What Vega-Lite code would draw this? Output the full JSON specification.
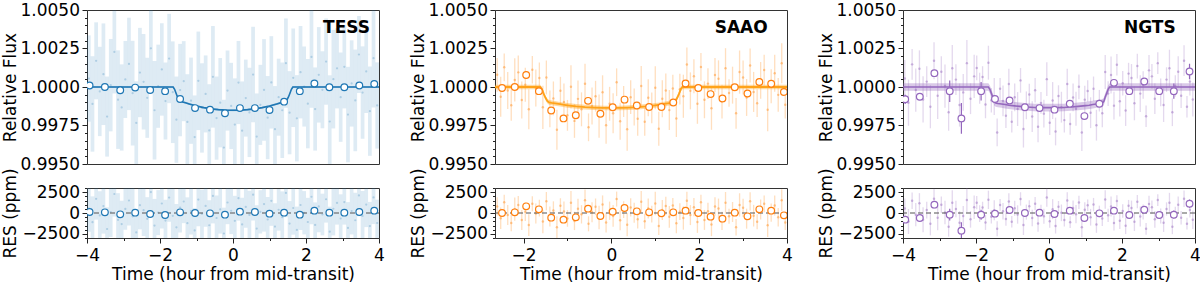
{
"$schema": "https://vega.github.io/schema/vega-lite/v6.json",
"padding": {"left": 0, "top": 0, "right": 0, "bottom": 0},
"config": {
  "font": "DejaVu Sans",
  "view": {"stroke": "#333333", "strokeWidth": 1},
  "axis": {"grid": false, "domain": false, "tickColor": "#222222", "tickSize": 5, "tickWidth": 1, "labelFontSize": 17, "labelColor": "#000000", "titleFontSize": 17, "titleFontWeight": "normal", "titleColor": "#000000", "labelFont": "DejaVu Sans", "titleFont": "DejaVu Sans", "labelFlush": false, "labelOverlap": false},
  "axisX": {"labelPadding": 4, "titlePadding": 3},
  "axisY": {"labelPadding": 2.5, "titleX": -68}
},
"datasets": {
"tess": [
{"t":-3.95,"f":1.00055,"e":0.0028,"r":550,"s":2800},
{"t":-3.85,"f":0.9989,"e":0.0031,"r":-1100,"s":3100},
{"t":-3.75,"f":1.0017,"e":0.0025,"r":1700,"s":2500},
{"t":-3.65,"f":0.99971,"e":0.0029,"r":-290,"s":2900},
{"t":-3.55,"f":1.00083,"e":0.0033,"r":830,"s":3300},
{"t":-3.45,"f":0.99808,"e":0.0026,"r":-1920,"s":2600},
{"t":-3.35,"f":1.00012,"e":0.003,"r":120,"s":3000},
{"t":-3.25,"f":1.00228,"e":0.0027,"r":2280,"s":2700},
{"t":-3.15,"f":0.99918,"e":0.0032,"r":-820,"s":3200},
{"t":-3.05,"f":0.99867,"e":0.0028,"r":-1330,"s":2800},
{"t":-2.95,"f":1.00049,"e":0.0025,"r":490,"s":2500},
{"t":-2.85,"f":1.0015,"e":0.003,"r":1500,"s":3000},
{"t":-2.75,"f":0.9996,"e":0.0034,"r":-400,"s":3400},
{"t":-2.65,"f":0.99767,"e":0.0027,"r":-2330,"s":2700},
{"t":-2.55,"f":1.00094,"e":0.0029,"r":940,"s":2900},
{"t":-2.45,"f":1.00034,"e":0.0031,"r":340,"s":3100},
{"t":-2.35,"f":0.9993,"e":0.0026,"r":-700,"s":2600},
{"t":-2.25,"f":1.00251,"e":0.0028,"r":2510,"s":2800},
{"t":-2.15,"f":0.99849,"e":0.0032,"r":-1510,"s":3200},
{"t":-2.05,"f":1.00005,"e":0.0027,"r":50,"s":2700},
{"t":-1.95,"f":1.00114,"e":0.003,"r":1140,"s":3000},
{"t":-1.85,"f":0.99909,"e":0.0025,"r":-910,"s":2500},
{"t":-1.75,"f":1.00185,"e":0.0029,"r":1850,"s":2900},
{"t":-1.65,"f":0.99966,"e":0.0033,"r":-340,"s":3300},
{"t":-1.55,"f":0.99788,"e":0.0028,"r":-1720,"s":2800},
{"t":-1.45,"f":0.9998,"e":0.003,"r":660,"s":3000},
{"t":-1.35,"f":1.00038,"e":0.0026,"r":1380,"s":2600},
{"t":-1.25,"f":0.99773,"e":0.0031,"r":-1220,"s":3100},
{"t":-1.15,"f":0.99911,"e":0.0028,"r":220,"s":2800},
{"t":-1.05,"f":0.99675,"e":0.0027,"r":-2090,"s":2700},
{"t":-0.95,"f":1.0004,"e":0.0032,"r":1610,"s":3200},
{"t":-0.85,"f":0.99864,"e":0.0029,"r":-100,"s":2900},
{"t":-0.75,"f":0.99955,"e":0.0025,"r":850,"s":2500},
{"t":-0.65,"f":0.99718,"e":0.003,"r":-1470,"s":3000},
{"t":-0.55,"f":1.00066,"e":0.0033,"r":2050,"s":3300},
{"t":-0.45,"f":0.99798,"e":0.0027,"r":-600,"s":2700},
{"t":-0.35,"f":0.99898,"e":0.0029,"r":430,"s":2900},
{"t":-0.25,"f":0.99607,"e":0.0031,"r":-2460,"s":3100},
{"t":-0.15,"f":0.99977,"e":0.0026,"r":1260,"s":2600},
{"t":-0.05,"f":0.99877,"e":0.0028,"r":270,"s":2800},
{"t":0.05,"f":0.99756,"e":0.003,"r":-940,"s":3000},
{"t":0.15,"f":1.00029,"e":0.0027,"r":1780,"s":2700},
{"t":0.25,"f":0.99716,"e":0.0032,"r":-1370,"s":3200},
{"t":0.35,"f":0.99928,"e":0.0025,"r":730,"s":2500},
{"t":0.45,"f":0.99835,"e":0.0029,"r":-230,"s":2900},
{"t":0.55,"f":1.00081,"e":0.0031,"r":2200,"s":3100},
{"t":0.65,"f":0.99678,"e":0.0028,"r":-1870,"s":2800},
{"t":0.75,"f":0.99884,"e":0.0026,"r":140,"s":2600},
{"t":0.85,"f":0.99981,"e":0.0033,"r":1070,"s":3300},
{"t":0.95,"f":0.99801,"e":0.0027,"r":-780,"s":2700},
{"t":1.05,"f":1.0003,"e":0.003,"r":1460,"s":3000},
{"t":1.15,"f":0.99726,"e":0.0028,"r":-1630,"s":2800},
{"t":1.25,"f":0.99934,"e":0.0025,"r":390,"s":2500},
{"t":1.35,"f":0.99849,"e":0.0031,"r":-510,"s":3100},
{"t":1.45,"f":1.00155,"e":0.0029,"r":2410,"s":2900},
{"t":1.55,"f":0.99833,"e":0.0027,"r":-1270,"s":2700},
{"t":1.65,"f":1.0006,"e":0.0032,"r":600,"s":3200},
{"t":1.75,"f":0.99797,"e":0.0028,"r":-2030,"s":2800},
{"t":1.85,"f":1.00096,"e":0.003,"r":960,"s":3000},
{"t":1.95,"f":1.00003,"e":0.0026,"r":30,"s":2600},
{"t":2.05,"f":0.99892,"e":0.0029,"r":-1080,"s":2900},
{"t":2.15,"f":1.00195,"e":0.0033,"r":1950,"s":3300},
{"t":2.25,"f":0.99857,"e":0.0027,"r":-1430,"s":2700},
{"t":2.35,"f":1.00079,"e":0.0031,"r":790,"s":3100},
{"t":2.45,"f":0.99982,"e":0.0025,"r":-180,"s":2500},
{"t":2.55,"f":1.00165,"e":0.0028,"r":1650,"s":2800},
{"t":2.65,"f":0.99776,"e":0.003,"r":-2240,"s":3000},
{"t":2.75,"f":1.00051,"e":0.0032,"r":510,"s":3200},
{"t":2.85,"f":1.00121,"e":0.0026,"r":1210,"s":2600},
{"t":2.95,"f":0.99934,"e":0.0029,"r":-660,"s":2900},
{"t":3.05,"f":1.00131,"e":0.0027,"r":1310,"s":2700},
{"t":3.15,"f":0.99821,"e":0.0031,"r":-1790,"s":3100},
{"t":3.25,"f":1.00023,"e":0.0028,"r":230,"s":2800},
{"t":3.35,"f":0.99913,"e":0.0033,"r":-870,"s":3300},
{"t":3.45,"f":1.00211,"e":0.0025,"r":2110,"s":2500},
{"t":3.55,"f":0.99964,"e":0.003,"r":-360,"s":3000},
{"t":3.65,"f":1.00101,"e":0.0027,"r":1010,"s":2700},
{"t":3.75,"f":0.99843,"e":0.0029,"r":-1570,"s":2900},
{"t":3.85,"f":1.00187,"e":0.0032,"r":1870,"s":3200},
{"t":3.95,"f":0.9988,"e":0.0028,"r":-1200,"s":2800}
],
"tessb": [
{"t":-3.93,"f":1.0001,"e":0.00005,"r":120,"s":50},
{"t":-3.51,"f":1.0,"e":0.00005,"r":80,"s":50},
{"t":-3.09,"f":0.99979,"e":0.00005,"r":-160,"s":50},
{"t":-2.68,"f":0.99996,"e":0.00005,"r":40,"s":50},
{"t":-2.27,"f":0.99981,"e":0.00005,"r":-120,"s":50},
{"t":-1.86,"f":0.99973,"e":0.00005,"r":-240,"s":50},
{"t":-1.45,"f":0.99922,"e":0.00005,"r":80,"s":50},
{"t":-1.04,"f":0.99863,"e":0.00005,"r":0,"s":50},
{"t":-0.63,"f":0.99853,"e":0.00005,"r":-40,"s":50},
{"t":-0.22,"f":0.9983,"e":0.00005,"r":-200,"s":50},
{"t":0.19,"f":0.99863,"e":0.00005,"r":160,"s":50},
{"t":0.6,"f":0.99863,"e":0.00005,"r":120,"s":50},
{"t":1.0,"f":0.99851,"e":0.00005,"r":-80,"s":50},
{"t":1.4,"f":0.99905,"e":0.00005,"r":40,"s":50},
{"t":1.83,"f":0.99973,"e":0.00005,"r":-200,"s":50},
{"t":2.23,"f":1.00023,"e":0.00005,"r":280,"s":50},
{"t":2.64,"f":0.99998,"e":0.00005,"r":40,"s":50},
{"t":3.05,"f":0.99998,"e":0.00005,"r":40,"s":50},
{"t":3.46,"f":1.0001,"e":0.00005,"r":120,"s":50},
{"t":3.87,"f":1.00019,"e":0.00005,"r":280,"s":50}
],
"tessm": [
{"t":-4,"m":1,"b":0.00006},{"t":-1.64,"m":1,"b":0.00006},{"t":-1.6,"m":0.99985,"b":0.00006},{"t":-1.56,"m":0.9996,"b":0.00006},{"t":-1.52,"m":0.99935,"b":0.00006},{"t":-1.48,"m":0.99918,"b":0.00006},{"t":-1.44,"m":0.9991,"b":0.00006},{"t":-1.38,"m":0.99903,"b":0.00006},{"t":-1.3,"m":0.99897,"b":0.00006},{"t":-1.2,"m":0.9989,"b":0.00006},{"t":-1.1,"m":0.99883,"b":0.00006},{"t":-1.0,"m":0.99876,"b":0.00006},{"t":-0.8,"m":0.99866,"b":0.00006},{"t":-0.6,"m":0.99858,"b":0.00006},{"t":-0.4,"m":0.99853,"b":0.00006},{"t":-0.2,"m":0.9985,"b":0.00006},{"t":0,"m":0.99849,"b":0.00006},{"t":0.2,"m":0.9985,"b":0.00006},{"t":0.4,"m":0.99853,"b":0.00006},{"t":0.6,"m":0.99858,"b":0.00006},{"t":0.8,"m":0.99866,"b":0.00006},{"t":1.0,"m":0.99876,"b":0.00006},{"t":1.1,"m":0.99883,"b":0.00006},{"t":1.2,"m":0.9989,"b":0.00006},{"t":1.3,"m":0.99897,"b":0.00006},{"t":1.38,"m":0.99903,"b":0.00006},{"t":1.44,"m":0.9991,"b":0.00006},{"t":1.48,"m":0.99918,"b":0.00006},{"t":1.52,"m":0.99935,"b":0.00006},{"t":1.56,"m":0.9996,"b":0.00006},{"t":1.6,"m":0.99985,"b":0.00006},{"t":1.64,"m":1,"b":0.00006},{"t":4,"m":1,"b":0.00006}
],
"saao": [
{"t":-2.6,"f":1.00079,"e":0.0011,"r":790,"s":1100},
{"t":-2.52,"f":0.99937,"e":0.0013,"r":-630,"s":1300},
{"t":-2.44,"f":1.00128,"e":0.0009,"r":1280,"s":900},
{"t":-2.36,"f":0.99977,"e":0.0012,"r":-230,"s":1200},
{"t":-2.28,"f":0.99881,"e":0.001,"r":-1190,"s":1000},
{"t":-2.2,"f":1.00046,"e":0.0014,"r":460,"s":1400},
{"t":-2.12,"f":1.00095,"e":0.0011,"r":950,"s":1100},
{"t":-2.04,"f":0.99915,"e":0.0012,"r":-850,"s":1200},
{"t":-1.96,"f":1.00015,"e":0.0011,"r":150,"s":1100},
{"t":-1.88,"f":0.99855,"e":0.0013,"r":-1450,"s":1300},
{"t":-1.8,"f":1.00112,"e":0.0009,"r":1120,"s":900},
{"t":-1.72,"f":0.99993,"e":0.0012,"r":-70,"s":1200},
{"t":-1.64,"f":1.00059,"e":0.001,"r":590,"s":1000},
{"t":-1.56,"f":0.99868,"e":0.0014,"r":-1020,"s":1400},
{"t":-1.48,"f":1.00062,"e":0.0011,"r":1420,"s":1100},
{"t":-1.4,"f":0.99858,"e":0.0012,"r":-410,"s":1200},
{"t":-1.32,"f":0.99926,"e":0.0011,"r":300,"s":1100},
{"t":-1.24,"f":0.99723,"e":0.0013,"r":-1700,"s":1300},
{"t":-1.16,"f":0.99976,"e":0.0009,"r":870,"s":900},
{"t":-1.08,"f":0.99903,"e":0.0012,"r":190,"s":1200},
{"t":-1.0,"f":0.99816,"e":0.001,"r":-650,"s":1000},
{"t":-0.92,"f":1.00001,"e":0.0014,"r":1230,"s":1400},
{"t":-0.84,"f":0.9978,"e":0.0011,"r":-950,"s":1100},
{"t":-0.76,"f":0.99923,"e":0.0012,"r":500,"s":1200},
{"t":-0.68,"f":0.99855,"e":0.0011,"r":-160,"s":1100},
{"t":-0.6,"f":1.00021,"e":0.0013,"r":1520,"s":1300},
{"t":-0.52,"f":0.99738,"e":0.0009,"r":-1300,"s":900},
{"t":-0.44,"f":0.99877,"e":0.0012,"r":100,"s":1200},
{"t":-0.36,"f":0.9994,"e":0.001,"r":740,"s":1000},
{"t":-0.28,"f":0.99811,"e":0.0014,"r":-540,"s":1400},
{"t":-0.2,"f":0.99966,"e":0.0011,"r":1010,"s":1100},
{"t":-0.12,"f":0.99751,"e":0.0012,"r":-1130,"s":1200},
{"t":-0.04,"f":0.99891,"e":0.0011,"r":270,"s":1100},
{"t":0.04,"f":0.99829,"e":0.0013,"r":-350,"s":1300},
{"t":0.12,"f":1.00031,"e":0.0009,"r":1670,"s":900},
{"t":0.2,"f":0.99777,"e":0.0012,"r":-880,"s":1200},
{"t":0.28,"f":0.99906,"e":0.001,"r":410,"s":1000},
{"t":0.36,"f":0.99726,"e":0.0014,"r":-1400,"s":1400},
{"t":0.44,"f":0.99934,"e":0.0011,"r":670,"s":1100},
{"t":0.52,"f":0.9987,"e":0.0012,"r":20,"s":1200},
{"t":0.6,"f":0.99794,"e":0.0011,"r":-750,"s":1100},
{"t":0.68,"f":1.00006,"e":0.0013,"r":1350,"s":1300},
{"t":0.76,"f":0.99774,"e":0.0009,"r":-990,"s":900},
{"t":0.84,"f":0.9993,"e":0.0012,"r":550,"s":1200},
{"t":0.92,"f":0.99865,"e":0.001,"r":-130,"s":1000},
{"t":1.0,"f":0.99995,"e":0.0014,"r":1140,"s":1400},
{"t":1.08,"f":0.99729,"e":0.0011,"r":-1550,"s":1100},
{"t":1.16,"f":0.99924,"e":0.0012,"r":350,"s":1200},
{"t":1.24,"f":0.99977,"e":0.0011,"r":840,"s":1100},
{"t":1.32,"f":0.9985,"e":0.0013,"r":-460,"s":1300},
{"t":1.4,"f":0.9999,"e":0.0009,"r":910,"s":900},
{"t":1.48,"f":0.99796,"e":0.0012,"r":-1240,"s":1200},
{"t":1.56,"f":0.99986,"e":0.001,"r":160,"s":1000},
{"t":1.64,"f":0.9994,"e":0.0014,"r":-600,"s":1400},
{"t":1.72,"f":1.00146,"e":0.0011,"r":1460,"s":1100},
{"t":1.8,"f":0.99975,"e":0.0012,"r":-250,"s":1200},
{"t":1.88,"f":1.0007,"e":0.0011,"r":700,"s":1100},
{"t":1.96,"f":0.99891,"e":0.0013,"r":-1090,"s":1300},
{"t":2.04,"f":1.0013,"e":0.0009,"r":1300,"s":900},
{"t":2.12,"f":0.99917,"e":0.0012,"r":-830,"s":1200},
{"t":2.2,"f":1.00022,"e":0.001,"r":220,"s":1000},
{"t":2.28,"f":0.99862,"e":0.0014,"r":-1380,"s":1400},
{"t":2.36,"f":1.00078,"e":0.0011,"r":780,"s":1100},
{"t":2.44,"f":1.00053,"e":0.0012,"r":530,"s":1200},
{"t":2.52,"f":0.99905,"e":0.0011,"r":-950,"s":1100},
{"t":2.6,"f":1.00122,"e":0.0013,"r":1220,"s":1300},
{"t":2.68,"f":0.99961,"e":0.0009,"r":-390,"s":900},
{"t":2.76,"f":1.00012,"e":0.0012,"r":120,"s":1200},
{"t":2.84,"f":0.99829,"e":0.001,"r":-1710,"s":1000},
{"t":2.92,"f":1.00097,"e":0.0014,"r":970,"s":1400},
{"t":3.0,"f":1.00062,"e":0.0011,"r":620,"s":1100},
{"t":3.08,"f":0.99932,"e":0.0012,"r":-680,"s":1200},
{"t":3.16,"f":1.0014,"e":0.0011,"r":1400,"s":1100},
{"t":3.24,"f":0.99968,"e":0.0013,"r":-320,"s":1300},
{"t":3.32,"f":0.99895,"e":0.0009,"r":-1050,"s":900},
{"t":3.4,"f":1.00043,"e":0.0012,"r":430,"s":1200},
{"t":3.48,"f":1.0011,"e":0.001,"r":1100,"s":1000},
{"t":3.56,"f":0.99852,"e":0.0014,"r":-1480,"s":1400},
{"t":3.64,"f":1.00005,"e":0.0011,"r":50,"s":1100},
{"t":3.72,"f":1.00089,"e":0.0012,"r":890,"s":1200},
{"t":3.8,"f":0.99949,"e":0.0011,"r":-510,"s":1100},
{"t":3.88,"f":1.00154,"e":0.0013,"r":1540,"s":1300},
{"t":3.96,"f":0.99885,"e":0.0009,"r":-1150,"s":900}
],
"saaob": [
{"t":-2.49,"f":0.99994,"e":0.00012,"r":0,"s":120},
{"t":-2.2,"f":1.0,"e":0.00015,"r":80,"s":150},
{"t":-1.94,"f":1.00078,"e":0.00025,"r":800,"s":250},
{"t":-1.65,"f":0.99973,"e":0.00018,"r":440,"s":180},
{"t":-1.37,"f":0.99847,"e":0.00015,"r":-560,"s":150},
{"t":-1.09,"f":0.99796,"e":0.00015,"r":-800,"s":150},
{"t":-0.81,"f":0.99817,"e":0.00018,"r":-520,"s":180},
{"t":-0.53,"f":0.9991,"e":0.0002,"r":520,"s":200},
{"t":-0.25,"f":0.99826,"e":0.0002,"r":-360,"s":200},
{"t":0.03,"f":0.99868,"e":0.00015,"r":160,"s":150},
{"t":0.3,"f":0.99918,"e":0.00015,"r":600,"s":150},
{"t":0.58,"f":0.9988,"e":0.00012,"r":200,"s":120},
{"t":0.86,"f":0.9987,"e":0.00015,"r":80,"s":150},
{"t":1.14,"f":0.9987,"e":0.00012,"r":-40,"s":120},
{"t":1.41,"f":0.99899,"e":0.00012,"r":80,"s":120},
{"t":1.69,"f":1.00023,"e":0.00015,"r":280,"s":150},
{"t":1.98,"f":0.99994,"e":0.00012,"r":0,"s":120},
{"t":2.26,"f":0.99954,"e":0.00012,"r":-440,"s":120},
{"t":2.53,"f":0.99926,"e":0.00018,"r":-680,"s":180},
{"t":2.81,"f":0.99998,"e":0.0002,"r":40,"s":200},
{"t":3.1,"f":0.99958,"e":0.00015,"r":-400,"s":150},
{"t":3.37,"f":1.00032,"e":0.00018,"r":440,"s":180},
{"t":3.64,"f":1.00021,"e":0.00018,"r":280,"s":180},
{"t":3.93,"f":0.99968,"e":0.00018,"r":-280,"s":180}
],
"saaom": [
{"t":-2.65,"m":1,"b":0.00015},{"t":-1.62,"m":1,"b":0.00015},{"t":-1.58,"m":0.99985,"b":0.00015},{"t":-1.54,"m":0.99955,"b":0.00015},{"t":-1.5,"m":0.9993,"b":0.00015},{"t":-1.46,"m":0.9991,"b":0.00015},{"t":-1.42,"m":0.999,"b":0.00015},{"t":-1.36,"m":0.99897,"b":0.00015},{"t":-1.28,"m":0.99894,"b":0.00015},{"t":-1.2,"m":0.9989,"b":0.00015},{"t":-1.1,"m":0.99885,"b":0.00015},{"t":-1.0,"m":0.99881,"b":0.00015},{"t":-0.8,"m":0.99874,"b":0.00015},{"t":-0.6,"m":0.99869,"b":0.00015},{"t":-0.4,"m":0.99866,"b":0.00015},{"t":-0.2,"m":0.99864,"b":0.00015},{"t":0,"m":0.99864,"b":0.00015},{"t":0.2,"m":0.99864,"b":0.00015},{"t":0.4,"m":0.99866,"b":0.00015},{"t":0.6,"m":0.99869,"b":0.00015},{"t":0.8,"m":0.99874,"b":0.00015},{"t":1.0,"m":0.99881,"b":0.00015},{"t":1.1,"m":0.99885,"b":0.00015},{"t":1.2,"m":0.9989,"b":0.00015},{"t":1.28,"m":0.99894,"b":0.00015},{"t":1.36,"m":0.99897,"b":0.00015},{"t":1.42,"m":0.999,"b":0.00015},{"t":1.46,"m":0.9991,"b":0.00015},{"t":1.5,"m":0.9993,"b":0.00015},{"t":1.54,"m":0.99955,"b":0.00015},{"t":1.58,"m":0.99985,"b":0.00015},{"t":1.62,"m":1,"b":0.00015},{"t":4,"m":1,"b":0.00015}
],
"ngts": [
{"t":-3.95,"f":1.00055,"e":0.0012,"r":550,"s":1200},
{"t":-3.85,"f":0.99898,"e":0.0015,"r":-1020,"s":1500},
{"t":-3.75,"f":1.00147,"e":0.001,"r":1470,"s":1000},
{"t":-3.65,"f":0.9998,"e":0.0014,"r":-200,"s":1400},
{"t":-3.55,"f":1.00118,"e":0.0012,"r":1180,"s":1200},
{"t":-3.45,"f":0.99919,"e":0.0015,"r":-810,"s":1500},
{"t":-3.35,"f":1.00035,"e":0.001,"r":350,"s":1000},
{"t":-3.25,"f":0.99872,"e":0.0014,"r":-1280,"s":1400},
{"t":-3.15,"f":1.00171,"e":0.0012,"r":1710,"s":1200},
{"t":-3.05,"f":0.99943,"e":0.0015,"r":-570,"s":1500},
{"t":-2.95,"f":1.00099,"e":0.001,"r":990,"s":1000},
{"t":-2.85,"f":1.00006,"e":0.0014,"r":60,"s":1400},
{"t":-2.75,"f":0.99836,"e":0.0012,"r":-1640,"s":1200},
{"t":-2.65,"f":1.00122,"e":0.0015,"r":1220,"s":1500},
{"t":-2.55,"f":1.00048,"e":0.001,"r":480,"s":1000},
{"t":-2.45,"f":0.99883,"e":0.0014,"r":-1170,"s":1400},
{"t":-2.35,"f":0.99965,"e":0.0012,"r":-350,"s":1200},
{"t":-2.25,"f":1.00155,"e":0.0015,"r":1550,"s":1500},
{"t":-2.15,"f":0.99924,"e":0.001,"r":-760,"s":1000},
{"t":-2.05,"f":1.00069,"e":0.0014,"r":690,"s":1400},
{"t":-1.98,"f":1.00124,"e":0.0008,"r":1240,"s":800},
{"t":-1.9,"f":0.99992,"e":0.001,"r":-80,"s":1000},
{"t":-1.82,"f":1.00065,"e":0.0007,"r":650,"s":700},
{"t":-1.74,"f":0.99887,"e":0.0009,"r":-1130,"s":900},
{"t":-1.66,"f":1.00158,"e":0.0011,"r":1580,"s":1100},
{"t":-1.58,"f":0.99914,"e":0.0008,"r":-460,"s":800},
{"t":-1.5,"f":0.99938,"e":0.0012,"r":330,"s":1200},
{"t":-1.42,"f":0.99705,"e":0.0009,"r":-1890,"s":900},
{"t":-1.34,"f":0.99988,"e":0.0007,"r":970,"s":700},
{"t":-1.26,"f":0.9991,"e":0.001,"r":210,"s":1000},
{"t":-1.18,"f":0.99813,"e":0.0008,"r":-720,"s":800},
{"t":-1.1,"f":1.00019,"e":0.001,"r":1370,"s":1000},
{"t":-1.02,"f":0.99775,"e":0.0007,"r":-1050,"s":700},
{"t":-0.94,"f":0.99933,"e":0.0009,"r":560,"s":900},
{"t":-0.86,"f":0.99857,"e":0.0011,"r":-180,"s":1100},
{"t":-0.78,"f":1.00043,"e":0.0008,"r":1690,"s":800},
{"t":-0.7,"f":0.99727,"e":0.0012,"r":-1440,"s":1200},
{"t":-0.62,"f":0.99881,"e":0.0009,"r":110,"s":900},
{"t":-0.54,"f":0.99951,"e":0.0007,"r":820,"s":700},
{"t":-0.46,"f":0.99808,"e":0.001,"r":-600,"s":1000},
{"t":-0.38,"f":0.99979,"e":0.0008,"r":1120,"s":800},
{"t":-0.3,"f":0.99742,"e":0.001,"r":-1250,"s":1000},
{"t":-0.22,"f":0.99897,"e":0.0007,"r":300,"s":700},
{"t":-0.14,"f":0.99827,"e":0.0009,"r":-390,"s":900},
{"t":-0.06,"f":1.00051,"e":0.0011,"r":1850,"s":1100},
{"t":0.02,"f":0.99768,"e":0.0008,"r":-980,"s":800},
{"t":0.1,"f":0.99912,"e":0.0012,"r":460,"s":1200},
{"t":0.18,"f":0.99711,"e":0.0009,"r":-1560,"s":900},
{"t":0.26,"f":0.99941,"e":0.0007,"r":740,"s":700},
{"t":0.34,"f":0.99869,"e":0.001,"r":20,"s":1000},
{"t":0.42,"f":0.99785,"e":0.0008,"r":-830,"s":800},
{"t":0.5,"f":1.00019,"e":0.001,"r":1500,"s":1000},
{"t":0.58,"f":0.9976,"e":0.0007,"r":-1100,"s":700},
{"t":0.66,"f":0.99932,"e":0.0009,"r":610,"s":900},
{"t":0.74,"f":0.99859,"e":0.0011,"r":-140,"s":1100},
{"t":0.82,"f":1.00001,"e":0.0008,"r":1270,"s":800},
{"t":0.9,"f":0.99704,"e":0.0012,"r":-1720,"s":1200},
{"t":0.98,"f":0.99918,"e":0.0009,"r":390,"s":900},
{"t":1.06,"f":0.99974,"e":0.0007,"r":930,"s":700},
{"t":1.14,"f":0.99833,"e":0.001,"r":-510,"s":1000},
{"t":1.22,"f":0.99988,"e":0.0008,"r":1010,"s":800},
{"t":1.3,"f":0.99752,"e":0.001,"r":-1380,"s":1000},
{"t":1.38,"f":0.99911,"e":0.0007,"r":180,"s":700},
{"t":1.46,"f":0.99829,"e":0.0009,"r":-670,"s":900},
{"t":1.54,"f":1.00097,"e":0.0011,"r":1620,"s":1100},
{"t":1.62,"f":0.99957,"e":0.0008,"r":-280,"s":800},
{"t":1.7,"f":1.00078,"e":0.0012,"r":780,"s":1200},
{"t":1.78,"f":0.99879,"e":0.0009,"r":-1210,"s":900},
{"t":1.86,"f":1.00144,"e":0.0007,"r":1440,"s":700},
{"t":1.94,"f":0.99908,"e":0.001,"r":-920,"s":1000},
{"t":2.02,"f":1.00024,"e":0.0008,"r":240,"s":800},
{"t":2.1,"f":0.99847,"e":0.001,"r":-1530,"s":1000},
{"t":2.18,"f":1.00087,"e":0.0007,"r":870,"s":700},
{"t":2.26,"f":1.00059,"e":0.0009,"r":590,"s":900},
{"t":2.34,"f":0.99894,"e":0.0011,"r":-1060,"s":1100},
{"t":2.42,"f":1.00136,"e":0.0008,"r":1360,"s":800},
{"t":2.5,"f":0.99957,"e":0.0012,"r":-430,"s":1200},
{"t":2.58,"f":1.00013,"e":0.0009,"r":130,"s":900},
{"t":2.66,"f":0.9981,"e":0.0007,"r":-1900,"s":700},
{"t":2.74,"f":1.00108,"e":0.001,"r":1080,"s":1000},
{"t":2.82,"f":1.00069,"e":0.0008,"r":690,"s":800},
{"t":2.9,"f":0.99924,"e":0.001,"r":-760,"s":1000},
{"t":2.98,"f":1.00155,"e":0.0007,"r":1550,"s":700},
{"t":3.06,"f":0.99965,"e":0.0009,"r":-350,"s":900},
{"t":3.14,"f":0.99883,"e":0.0011,"r":-1170,"s":1100},
{"t":3.22,"f":1.00048,"e":0.0008,"r":480,"s":800},
{"t":3.3,"f":1.00122,"e":0.0012,"r":1220,"s":1200},
{"t":3.38,"f":0.99836,"e":0.0009,"r":-1640,"s":900},
{"t":3.46,"f":1.00006,"e":0.0007,"r":60,"s":700},
{"t":3.54,"f":1.00099,"e":0.001,"r":990,"s":1000},
{"t":3.62,"f":0.99943,"e":0.0008,"r":-570,"s":800},
{"t":3.7,"f":1.00171,"e":0.001,"r":1710,"s":1000},
{"t":3.78,"f":0.99872,"e":0.0007,"r":-1280,"s":700},
{"t":3.86,"f":1.00035,"e":0.0009,"r":350,"s":900},
{"t":3.94,"f":0.99919,"e":0.0011,"r":-810,"s":1100}
],
"ngtsb": [
{"t":-3.94,"f":0.9992,"e":0.0003,"r":-800,"s":300},
{"t":-3.54,"f":0.99937,"e":0.0002,"r":-600,"s":200},
{"t":-3.14,"f":1.0009,"e":0.0002,"r":1000,"s":200},
{"t":-2.72,"f":0.99973,"e":0.0007,"r":-200,"s":700},
{"t":-2.4,"f":0.99796,"e":0.001,"r":-2120,"s":1000},
{"t":-1.86,"f":0.99973,"e":0.0006,"r":-200,"s":600},
{"t":-1.48,"f":0.99922,"e":0.00015,"r":-80,"s":150},
{"t":-1.08,"f":0.99912,"e":0.00012,"r":360,"s":120},
{"t":-0.66,"f":0.99868,"e":0.0001,"r":0,"s":100},
{"t":-0.26,"f":0.99863,"e":0.0001,"r":40,"s":100},
{"t":0.15,"f":0.99853,"e":0.0001,"r":-120,"s":100},
{"t":0.57,"f":0.99891,"e":0.0001,"r":280,"s":100},
{"t":0.97,"f":0.99811,"e":0.00012,"r":-600,"s":120},
{"t":1.38,"f":0.99891,"e":0.00012,"r":-40,"s":120},
{"t":1.78,"f":1.00027,"e":0.00015,"r":280,"s":150},
{"t":2.2,"f":0.99973,"e":0.00015,"r":-240,"s":150},
{"t":2.61,"f":1.00036,"e":0.00015,"r":400,"s":150},
{"t":3.02,"f":0.99973,"e":0.0002,"r":-240,"s":200},
{"t":3.42,"f":0.99973,"e":0.0005,"r":-200,"s":500},
{"t":3.85,"f":1.00101,"e":0.0005,"r":1120,"s":500}
],
"ngtsm": [
{"t":-4,"m":1,"b":0.00025},{"t":-1.66,"m":1,"b":0.00025},{"t":-1.62,"m":0.99985,"b":0.00025},{"t":-1.58,"m":0.9996,"b":0.00025},{"t":-1.54,"m":0.99935,"b":0.00025},{"t":-1.5,"m":0.99905,"b":0.00025},{"t":-1.46,"m":0.99896,"b":0.00025},{"t":-1.4,"m":0.99893,"b":0.00025},{"t":-1.3,"m":0.9989,"b":0.00025},{"t":-1.2,"m":0.99886,"b":0.00025},{"t":-1.1,"m":0.99882,"b":0.00025},{"t":-1.0,"m":0.99879,"b":0.00025},{"t":-0.8,"m":0.99874,"b":0.00025},{"t":-0.6,"m":0.9987,"b":0.00025},{"t":-0.4,"m":0.99867,"b":0.00025},{"t":-0.2,"m":0.99866,"b":0.00025},{"t":0,"m":0.99866,"b":0.00025},{"t":0.2,"m":0.99866,"b":0.00025},{"t":0.4,"m":0.99867,"b":0.00025},{"t":0.6,"m":0.9987,"b":0.00025},{"t":0.8,"m":0.99874,"b":0.00025},{"t":1.0,"m":0.99879,"b":0.00025},{"t":1.1,"m":0.99882,"b":0.00025},{"t":1.2,"m":0.99886,"b":0.00025},{"t":1.3,"m":0.9989,"b":0.00025},{"t":1.4,"m":0.99893,"b":0.00025},{"t":1.46,"m":0.99896,"b":0.00025},{"t":1.5,"m":0.99905,"b":0.00025},{"t":1.54,"m":0.99935,"b":0.00025},{"t":1.58,"m":0.9996,"b":0.00025},{"t":1.62,"m":0.99985,"b":0.00025},{"t":1.66,"m":1,"b":0.00025},{"t":4,"m":1,"b":0.00025}
]
},
"columns": 3,
"spacing": {"row": 24, "column": 116},
"bounds": "flush",
"concat": [
{
 "width": 292, "height": 154,
 "layer": [
   {"data": {"name": "tess"}, "mark": {"type": "errorbar", "clip": true, "color": "#1f77b4", "opacity": 0.15, "thickness": 3.7},
    "encoding": {"x": {"field": "t", "type": "quantitative", "title": null, "scale": {"domain": [-4, 4], "nice": false, "zero": false}, "axis": null},
     "y": {"field": "f", "type": "quantitative", "title": "Relative Flux", "scale": {"domain": [0.995, 1.005], "nice": false, "zero": false},
       "axis": {"values": [0.995,0.9955,0.996,0.9965,0.997,0.9975,0.998,0.9985,0.999,0.9995,1,1.0005,1.001,1.0015,1.002,1.0025,1.003,1.0035,1.004,1.0045,1.005], "tickCount": 100, "format": ".4f", "title": "Relative Flux", "labelOverlap": false,
        "labelExpr": "abs(datum.value*400-round(datum.value*400))<0.001 ? datum.label : ''",
        "tickSize": {"condition": {"test": "abs(datum.value*400-round(datum.value*400))<0.001", "value": 5}, "value": 2.5}}},
     "yError": {"field": "e"}}},
   {"data": {"name": "tess"}, "mark": {"type": "point", "filled": true, "size": 5, "clip": true, "color": "#1f77b4", "opacity": 0.25},
    "encoding": {"x": {"field": "t", "type": "quantitative", "title": null}, "y": {"field": "f", "type": "quantitative", "title": "Relative Flux"}}},
   {"data": {"name": "tessm"}, "mark": {"type": "errorband", "clip": true, "color": "#1f77b4", "opacity": 0.3},
    "encoding": {"x": {"field": "t", "type": "quantitative", "title": null}, "y": {"field": "m", "type": "quantitative", "title": "Relative Flux"}, "yError": {"field": "b"}}},
   {"data": {"name": "tessm"}, "mark": {"type": "line", "clip": true, "color": "#1f77b4", "strokeWidth": 1.6},
    "encoding": {"x": {"field": "t", "type": "quantitative", "title": null}, "y": {"field": "m", "type": "quantitative", "title": "Relative Flux"}}},
   {"data": {"name": "tessb"}, "mark": {"type": "errorbar", "clip": true, "color": "#1f77b4", "thickness": 1.2},
    "encoding": {"x": {"field": "t", "type": "quantitative", "title": null}, "y": {"field": "f", "type": "quantitative", "title": "Relative Flux"}, "yError": {"field": "e"}}},
   {"data": {"name": "tessb"}, "mark": {"type": "point", "filled": true, "fill": "#ffffff", "stroke": "#1f77b4", "strokeWidth": 1.2, "size": 45, "opacity": 1, "clip": true},
    "encoding": {"x": {"field": "t", "type": "quantitative", "title": null}, "y": {"field": "f", "type": "quantitative", "title": "Relative Flux"}}},
   {"data": {"values": [{"name": "TESS"}]}, "mark": {"type": "text", "fontWeight": "bold", "fontSize": 17, "align": "right", "baseline": "middle", "font": "DejaVu Sans", "color": "#000000"},
    "encoding": {"text": {"field": "name"}, "x": {"datum": 3.754, "type": "quantitative"}, "y": {"datum": 1.00382, "type": "quantitative"}}}
 ]
},
{
 "width": 292, "height": 154,
 "layer": [
   {"data": {"name": "saao"}, "mark": {"type": "errorbar", "clip": true, "color": "#ff8c1a", "opacity": 0.28, "thickness": 1.3},
    "encoding": {"x": {"field": "t", "type": "quantitative", "title": null, "scale": {"domain": [-2.65, 4], "nice": false, "zero": false}, "axis": null},
     "y": {"field": "f", "type": "quantitative", "title": "Relative Flux", "scale": {"domain": [0.995, 1.005], "nice": false, "zero": false},
       "axis": {"values": [0.995,0.9955,0.996,0.9965,0.997,0.9975,0.998,0.9985,0.999,0.9995,1,1.0005,1.001,1.0015,1.002,1.0025,1.003,1.0035,1.004,1.0045,1.005], "tickCount": 100, "format": ".4f", "title": "Relative Flux", "labelOverlap": false,
        "labelExpr": "abs(datum.value*400-round(datum.value*400))<0.001 ? datum.label : ''",
        "tickSize": {"condition": {"test": "abs(datum.value*400-round(datum.value*400))<0.001", "value": 5}, "value": 2.5}}},
     "yError": {"field": "e"}}},
   {"data": {"name": "saao"}, "mark": {"type": "point", "filled": true, "size": 6, "clip": true, "color": "#ff8c1a", "opacity": 0.45},
    "encoding": {"x": {"field": "t", "type": "quantitative", "title": null}, "y": {"field": "f", "type": "quantitative", "title": "Relative Flux"}}},
   {"data": {"name": "saaom"}, "mark": {"type": "errorband", "clip": true, "color": "#ffa31a", "opacity": 0.4},
    "encoding": {"x": {"field": "t", "type": "quantitative", "title": null}, "y": {"field": "m", "type": "quantitative", "title": "Relative Flux"}, "yError": {"field": "b"}}},
   {"data": {"name": "saaom"}, "mark": {"type": "line", "clip": true, "color": "#ffa31a", "strokeWidth": 1.8},
    "encoding": {"x": {"field": "t", "type": "quantitative", "title": null}, "y": {"field": "m", "type": "quantitative", "title": "Relative Flux"}}},
   {"data": {"name": "saaob"}, "mark": {"type": "errorbar", "clip": true, "color": "#ff7f0e", "thickness": 1.2},
    "encoding": {"x": {"field": "t", "type": "quantitative", "title": null}, "y": {"field": "f", "type": "quantitative", "title": "Relative Flux"}, "yError": {"field": "e"}}},
   {"data": {"name": "saaob"}, "mark": {"type": "point", "filled": true, "fill": "#ffffff", "stroke": "#ff7f0e", "strokeWidth": 1.2, "size": 45, "opacity": 1, "clip": true},
    "encoding": {"x": {"field": "t", "type": "quantitative", "title": null}, "y": {"field": "f", "type": "quantitative", "title": "Relative Flux"}}},
   {"data": {"values": [{"name": "SAAO"}]}, "mark": {"type": "text", "fontWeight": "bold", "fontSize": 17, "align": "right", "baseline": "middle", "font": "DejaVu Sans", "color": "#000000"},
    "encoding": {"text": {"field": "name"}, "x": {"datum": 3.56, "type": "quantitative"}, "y": {"datum": 1.00382, "type": "quantitative"}}}
 ]
},
{
 "width": 292, "height": 154,
 "layer": [
   {"data": {"name": "ngts"}, "mark": {"type": "errorbar", "clip": true, "color": "#9467bd", "opacity": 0.25, "thickness": 1.3},
    "encoding": {"x": {"field": "t", "type": "quantitative", "title": null, "scale": {"domain": [-4, 4], "nice": false, "zero": false}, "axis": null},
     "y": {"field": "f", "type": "quantitative", "title": "Relative Flux", "scale": {"domain": [0.995, 1.005], "nice": false, "zero": false},
       "axis": {"values": [0.995,0.9955,0.996,0.9965,0.997,0.9975,0.998,0.9985,0.999,0.9995,1,1.0005,1.001,1.0015,1.002,1.0025,1.003,1.0035,1.004,1.0045,1.005], "tickCount": 100, "format": ".4f", "title": "Relative Flux", "labelOverlap": false,
        "labelExpr": "abs(datum.value*400-round(datum.value*400))<0.001 ? datum.label : ''",
        "tickSize": {"condition": {"test": "abs(datum.value*400-round(datum.value*400))<0.001", "value": 5}, "value": 2.5}}},
     "yError": {"field": "e"}}},
   {"data": {"name": "ngts"}, "mark": {"type": "point", "filled": true, "size": 6, "clip": true, "color": "#9467bd", "opacity": 0.45},
    "encoding": {"x": {"field": "t", "type": "quantitative", "title": null}, "y": {"field": "f", "type": "quantitative", "title": "Relative Flux"}}},
   {"data": {"name": "ngtsm"}, "mark": {"type": "errorband", "clip": true, "color": "#9467bd", "opacity": 0.35},
    "encoding": {"x": {"field": "t", "type": "quantitative", "title": null}, "y": {"field": "m", "type": "quantitative", "title": "Relative Flux"}, "yError": {"field": "b"}}},
   {"data": {"name": "ngtsm"}, "mark": {"type": "line", "clip": true, "color": "#9467bd", "strokeWidth": 1.6},
    "encoding": {"x": {"field": "t", "type": "quantitative", "title": null}, "y": {"field": "m", "type": "quantitative", "title": "Relative Flux"}}},
   {"data": {"name": "ngtsb"}, "mark": {"type": "errorbar", "clip": true, "color": "#9467bd", "thickness": 1.2},
    "encoding": {"x": {"field": "t", "type": "quantitative", "title": null}, "y": {"field": "f", "type": "quantitative", "title": "Relative Flux"}, "yError": {"field": "e"}}},
   {"data": {"name": "ngtsb"}, "mark": {"type": "point", "filled": true, "fill": "#ffffff", "stroke": "#9467bd", "strokeWidth": 1.2, "size": 45, "opacity": 1, "clip": true},
    "encoding": {"x": {"field": "t", "type": "quantitative", "title": null}, "y": {"field": "f", "type": "quantitative", "title": "Relative Flux"}}},
   {"data": {"values": [{"name": "NGTS"}]}, "mark": {"type": "text", "fontWeight": "bold", "fontSize": 17, "align": "right", "baseline": "middle", "font": "DejaVu Sans", "color": "#000000"},
    "encoding": {"text": {"field": "name"}, "x": {"datum": 3.47, "type": "quantitative"}, "y": {"datum": 1.00382, "type": "quantitative"}}}
 ]
},
{
 "width": 292, "height": 50,
 "layer": [
   {"data": {"name": "tess"}, "mark": {"type": "errorbar", "clip": true, "color": "#1f77b4", "opacity": 0.15, "thickness": 3.7},
    "encoding": {"x": {"field": "t", "type": "quantitative", "title": "Time (hour from mid-transit)", "scale": {"domain": [-4, 4], "nice": false, "zero": false},
       "axis": {"values": [-4,-3.5,-3,-2.5,-2,-1.5,-1,-0.5,0,0.5,1,1.5,2,2.5,3,3.5,4], "tickCount": 100, "format": "d", "title": "Time (hour from mid-transit)", "labelOverlap": false,
        "labelExpr": "datum.value % 2 === 0 ? datum.label : ''",
        "tickSize": {"condition": {"test": "datum.value % 2 === 0", "value": 5}, "value": 2.5}}},
     "y": {"field": "r", "type": "quantitative", "title": "RES (ppm)", "scale": {"domain": [-3000, 3000], "nice": false, "zero": false},
       "axis": {"values": [-3000,-2500,-2000,-1500,-1000,-500,0,500,1000,1500,2000,2500,3000], "tickCount": 100, "format": "d", "title": "RES (ppm)", "labelOverlap": false,
        "labelExpr": "datum.value % 2500 === 0 ? datum.label : ''",
        "tickSize": {"condition": {"test": "datum.value % 2500 === 0", "value": 5}, "value": 2.5}}},
     "yError": {"field": "s"}}},
   {"data": {"name": "tess"}, "mark": {"type": "point", "filled": true, "size": 5, "clip": true, "color": "#1f77b4", "opacity": 0.25},
    "encoding": {"x": {"field": "t", "type": "quantitative", "title": "Time (hour from mid-transit)"}, "y": {"field": "r", "type": "quantitative", "title": "RES (ppm)"}}},
   {"data": {"values": [{}]}, "mark": {"type": "rule", "strokeDash": [5, 3], "color": "#555555", "strokeWidth": 1.2},
    "encoding": {"y": {"datum": 0, "type": "quantitative"}}},
   {"data": {"name": "tessb"}, "mark": {"type": "errorbar", "clip": true, "color": "#1f77b4", "thickness": 1.2},
    "encoding": {"x": {"field": "t", "type": "quantitative", "title": "Time (hour from mid-transit)"}, "y": {"field": "r", "type": "quantitative", "title": "RES (ppm)"}, "yError": {"field": "s"}}},
   {"data": {"name": "tessb"}, "mark": {"type": "point", "filled": true, "fill": "#ffffff", "stroke": "#1f77b4", "strokeWidth": 1.2, "size": 45, "opacity": 1, "clip": true},
    "encoding": {"x": {"field": "t", "type": "quantitative", "title": "Time (hour from mid-transit)"}, "y": {"field": "r", "type": "quantitative", "title": "RES (ppm)"}}}
 ]
},
{
 "width": 292, "height": 50,
 "layer": [
   {"data": {"name": "saao"}, "mark": {"type": "errorbar", "clip": true, "color": "#ff8c1a", "opacity": 0.28, "thickness": 1.3},
    "encoding": {"x": {"field": "t", "type": "quantitative", "title": "Time (hour from mid-transit)", "scale": {"domain": [-2.65, 4], "nice": false, "zero": false},
       "axis": {"values": [-2,-1.5,-1,-0.5,0,0.5,1,1.5,2,2.5,3,3.5,4], "tickCount": 100, "format": "d", "title": "Time (hour from mid-transit)", "labelOverlap": false,
        "labelExpr": "datum.value % 2 === 0 ? datum.label : ''",
        "tickSize": {"condition": {"test": "datum.value % 2 === 0", "value": 5}, "value": 2.5}}},
     "y": {"field": "r", "type": "quantitative", "title": "RES (ppm)", "scale": {"domain": [-3000, 3000], "nice": false, "zero": false},
       "axis": {"values": [-3000,-2500,-2000,-1500,-1000,-500,0,500,1000,1500,2000,2500,3000], "tickCount": 100, "format": "d", "title": "RES (ppm)", "labelOverlap": false,
        "labelExpr": "datum.value % 2500 === 0 ? datum.label : ''",
        "tickSize": {"condition": {"test": "datum.value % 2500 === 0", "value": 5}, "value": 2.5}}},
     "yError": {"field": "s"}}},
   {"data": {"name": "saao"}, "mark": {"type": "point", "filled": true, "size": 6, "clip": true, "color": "#ff8c1a", "opacity": 0.45},
    "encoding": {"x": {"field": "t", "type": "quantitative", "title": "Time (hour from mid-transit)"}, "y": {"field": "r", "type": "quantitative", "title": "RES (ppm)"}}},
   {"data": {"values": [{}]}, "mark": {"type": "rule", "strokeDash": [5, 3], "color": "#555555", "strokeWidth": 1.2},
    "encoding": {"y": {"datum": 0, "type": "quantitative"}}},
   {"data": {"name": "saaob"}, "mark": {"type": "errorbar", "clip": true, "color": "#ff7f0e", "thickness": 1.2},
    "encoding": {"x": {"field": "t", "type": "quantitative", "title": "Time (hour from mid-transit)"}, "y": {"field": "r", "type": "quantitative", "title": "RES (ppm)"}, "yError": {"field": "s"}}},
   {"data": {"name": "saaob"}, "mark": {"type": "point", "filled": true, "fill": "#ffffff", "stroke": "#ff7f0e", "strokeWidth": 1.2, "size": 45, "opacity": 1, "clip": true},
    "encoding": {"x": {"field": "t", "type": "quantitative", "title": "Time (hour from mid-transit)"}, "y": {"field": "r", "type": "quantitative", "title": "RES (ppm)"}}}
 ]
},
{
 "width": 292, "height": 50,
 "layer": [
   {"data": {"name": "ngts"}, "mark": {"type": "errorbar", "clip": true, "color": "#9467bd", "opacity": 0.25, "thickness": 1.3},
    "encoding": {"x": {"field": "t", "type": "quantitative", "title": "Time (hour from mid-transit)", "scale": {"domain": [-4, 4], "nice": false, "zero": false},
       "axis": {"values": [-4,-3.5,-3,-2.5,-2,-1.5,-1,-0.5,0,0.5,1,1.5,2,2.5,3,3.5,4], "tickCount": 100, "format": "d", "title": "Time (hour from mid-transit)", "labelOverlap": false,
        "labelExpr": "datum.value % 2 === 0 ? datum.label : ''",
        "tickSize": {"condition": {"test": "datum.value % 2 === 0", "value": 5}, "value": 2.5}}},
     "y": {"field": "r", "type": "quantitative", "title": "RES (ppm)", "scale": {"domain": [-3000, 3000], "nice": false, "zero": false},
       "axis": {"values": [-3000,-2500,-2000,-1500,-1000,-500,0,500,1000,1500,2000,2500,3000], "tickCount": 100, "format": "d", "title": "RES (ppm)", "labelOverlap": false,
        "labelExpr": "datum.value % 2500 === 0 ? datum.label : ''",
        "tickSize": {"condition": {"test": "datum.value % 2500 === 0", "value": 5}, "value": 2.5}}},
     "yError": {"field": "s"}}},
   {"data": {"name": "ngts"}, "mark": {"type": "point", "filled": true, "size": 6, "clip": true, "color": "#9467bd", "opacity": 0.45},
    "encoding": {"x": {"field": "t", "type": "quantitative", "title": "Time (hour from mid-transit)"}, "y": {"field": "r", "type": "quantitative", "title": "RES (ppm)"}}},
   {"data": {"values": [{}]}, "mark": {"type": "rule", "strokeDash": [5, 3], "color": "#555555", "strokeWidth": 1.2},
    "encoding": {"y": {"datum": 0, "type": "quantitative"}}},
   {"data": {"name": "ngtsb"}, "mark": {"type": "errorbar", "clip": true, "color": "#9467bd", "thickness": 1.2},
    "encoding": {"x": {"field": "t", "type": "quantitative", "title": "Time (hour from mid-transit)"}, "y": {"field": "r", "type": "quantitative", "title": "RES (ppm)"}, "yError": {"field": "s"}}},
   {"data": {"name": "ngtsb"}, "mark": {"type": "point", "filled": true, "fill": "#ffffff", "stroke": "#9467bd", "strokeWidth": 1.2, "size": 45, "opacity": 1, "clip": true},
    "encoding": {"x": {"field": "t", "type": "quantitative", "title": "Time (hour from mid-transit)"}, "y": {"field": "r", "type": "quantitative", "title": "RES (ppm)"}}}
 ]
}
]
}
